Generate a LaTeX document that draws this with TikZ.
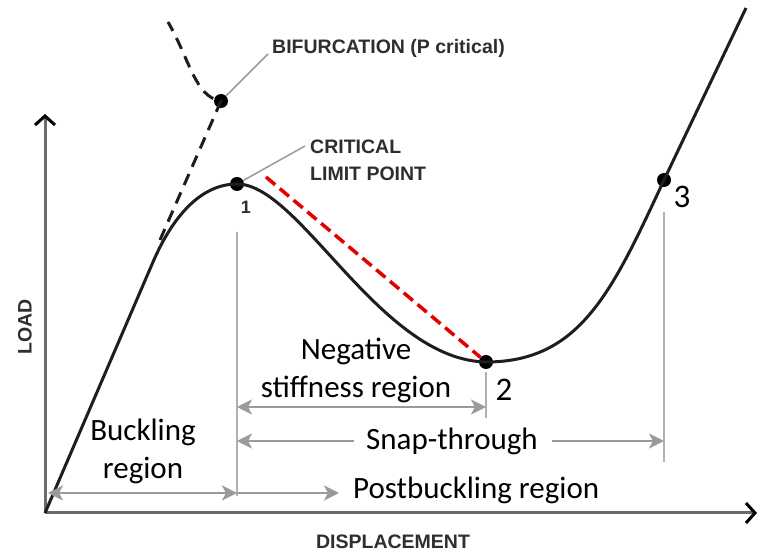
\documentclass[tikz,border=0pt]{standalone}
\usepackage{fontspec}
\setmainfont{Carlito}
\newfontfamily\labfont{Liberation Sans}
\usetikzlibrary{arrows.meta}
\definecolor{labgray}{HTML}{2E2E2E}
\definecolor{axisgray}{HTML}{6A6A6A}
\definecolor{arrgray}{HTML}{9A9A9A}
\definecolor{vgray}{HTML}{B0B0B0}
\definecolor{curveblack}{HTML}{1E1E1E}
\tikzset{
  txt/.style={font=\fontsize{31}{38}\selectfont, inner sep=0pt, align=center},
  numtxt/.style={font=\fontsize{33}{38}\selectfont, inner sep=0pt},
  lab/.style={font=\labfont\bfseries\fontsize{19.5}{27}\selectfont, text=labgray, inner sep=0pt, align=left},
  garrow/.style={draw=arrgray, line width=2.5pt, -{Stealth[length=15pt,width=15pt,inset=4pt]}},
  gdarrow/.style={draw=arrgray, line width=2.5pt, {Stealth[length=15pt,width=15pt,inset=4pt]}-{Stealth[length=15pt,width=15pt,inset=4pt]}},
  vline/.style={draw=vgray, line width=2pt},
  leader/.style={draw=arrgray, line width=1.5pt},
  dot/.style={circle, fill=black, inner sep=0pt, minimum size=14pt},
  axis/.style={draw=axisgray, line width=3pt},
  curve/.style={draw=curveblack, line width=3pt},
}
\begin{document}
\begin{tikzpicture}[x=1pt,y=-1pt]
\useasboundingbox (0,0) rectangle (764,553);
\fill[white] (0,0) rectangle (764,553);

% axes
\coordinate (O) at (45,513);
\coordinate (ytop) at (45,114);
\coordinate (xend) at (757,513);
\draw[axis, -{Straight Barb[length=9pt,width=20pt,line width=3pt,color=black]}] (O) -- (ytop);
\draw[axis, -{Straight Barb[length=9pt,width=20pt,line width=3pt,color=black]}] (O) -- (xend);
\node[lab, rotate=90] (load) at (25,327) {LOAD};
\node[lab] (disp) at (393,542) {DISPLACEMENT};

% dashed bifurcation path
\coordinate (dstart) at (160,240);
\coordinate (dtop) at (168,22);
\node[dot] (bif) at (221,101) {};
\draw[curve, dash pattern=on 12pt off 8pt] (dstart) -- (bif.center) .. controls (195,97) and (190,60) .. (dtop);

% main curve
\node[dot] (p1) at (237,184) {};
\node[dot] (p2) at (486,362) {};
\node[dot] (p3) at (664,180) {};
\coordinate (knee) at (153,262);
\coordinate (ctop) at (746,8);
\draw[curve] (O) -- (knee) .. controls (172,218) and (200,184) .. (p1.center)
  .. controls (300,184) and (380,360) .. (p2.center)
  .. controls (580,362) and (612,292) .. (p3.center) -- (ctop);

% red dashed chord
\coordinate (rstart) at (266,177);
\draw[red!90!black, line width=3.5pt, dash pattern=on 12pt off 6pt] (rstart) -- (p2);

% labels with leaders
\node[lab, anchor=west] (biflab) at (272,48) {BIFURCATION (P critical)};
\coordinate (bifl) at (268,54);
\draw[leader] (bif) -- (bifl);
\node[lab, anchor=north west] (critlab) at (310,140) {CRITICAL\\LIMIT POINT};
\coordinate (critl) at (305,146);
\draw[leader] (p1) -- (critl);
\node[lab, font=\labfont\bfseries\fontsize{18}{20}\selectfont] (one) at (246,207) {1};
\node[numtxt] (two) at (504,390) {2};
\node[numtxt] (three) at (682,197) {3};

% vertical markers
\coordinate (v1t) at (237,232);
\coordinate (v1b) at (237,496);
\coordinate (v2t) at (486,372);
\coordinate (v2b) at (486,418);
\coordinate (v3t) at (664,212);
\coordinate (v3b) at (664,462);
\draw[vline] (v1t) -- (v1b);
\draw[vline] (v2t) -- (v2b);
\draw[vline] (v3t) -- (v3b);

% region arrows and texts
\node[txt] (neg) at (356,370) {Negative\\stiffness region};
\coordinate (na) at (237,407);
\coordinate (nb) at (486,407);
\draw[gdarrow] (na) -- (nb);

\node[txt] (snap) at (452,441) {Snap-through};
\coordinate (sa) at (237,441);
\coordinate (sb) at (664,441);
\draw[garrow] ([xshift=-12pt]snap.west) -- (sa);
\draw[garrow] ([xshift=14pt]snap.east) -- (sb);

\node[txt] (buck) at (143,451) {Buckling\\region};
\coordinate (ba) at (48,493);
\coordinate (bb) at (237,493);
\coordinate (pb) at (339,493);
\draw[gdarrow] (ba) -- (bb);
\draw[garrow] (bb) -- (pb);
\node[txt, anchor=west] (post) at (353,490) {Postbuckling region};
\end{tikzpicture}
\end{document}
